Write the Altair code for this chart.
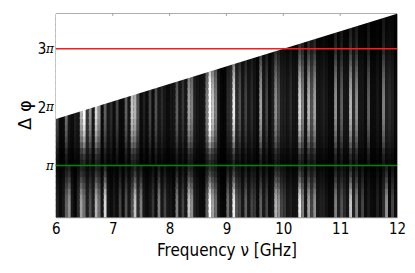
import altair as alt
import pandas as pd

FONT = "DejaVu Sans Condensed, Roboto, sans-serif"

# brightness of the vertical streaks, read column by column (3 px wide each)
lower_a = [.15,.05,.1,.4,.55,.1,.03,.2,.6,.45,.15,.35,.15,.65,.45,.1,.75,.1,.05,.12,.05,.3,.05,.35,.1,.35,.7,.2,.5,.1,.05,.1,.25,.05,.5,.1,.3,.1]
lower_b = [.1,.05,.5,.1,.3,.1,.7,.55,.15,.1,.05,.05,.4,.85,.6,.45,.1,.03,.03,.45,.2,.8,.35,.3,.1,.4,.1,.3,.25,.05,.4,.1,.3,.05,.1,.65,.55,.3]
lower_c = [.25,.1,.15,.08,.1,.8,.5,.1,.6,.3,.55,.1,.15,.15,.08,.04,.05,.5,.15,.35,.2,.1,.7,.15,.5,.1,.3,.05,.12,.05,.04,.15,.05,.2,.55,.05,.3,.05]
upper_a = [.3,.05,.05,.45,.1,.05,.15,.1,.65,.85,.25,.55,.1,.75,.55,.05,.4,.1,.2,.05,.3,.05,.05,.4,.1,.7,.65,.35,.05,.15,.05,.3,.05,.35,.1,.2,.1,.05]
upper_b = [.1,.1,.4,.1,.25,.1,.6,.5,.15,.1,.08,.1,.5,.95,.7,.5,.1,.03,.03,.2,.25,.8,.2,.35,.1,.3,.1,.2,.1,.05,.6,.1,.3,.05,.15,.55,.35,.15]
upper_c = [.15,.1,.2,.1,.1,.75,.5,.1,.65,.35,.6,.1,.1,.15,.1,.05,.05,.55,.1,.4,.1,.1,.65,.2,.55,.1,.1,.05,.4,.05,.05,.1,.05,.5,.15,.2,.15,.05]

# row edges in units of pi and the relative strength of the streaks in each row
row_edges = [.115,.2,.3,.4,.5,.6,.7,.8,.9,1.0,1.1,1.2,1.3,1.4,1.5,1.6,1.7,1.8,1.9,2.0,2.1,2.2,2.3,2.4,2.5,2.6,2.7,2.8,2.9,3.0,3.1,3.2,3.3,3.4,3.5,3.6]
row_gain = [1.0,1.0,1.0,.95,.85,.7,.55,.4,.28,.22,.3,.42,.6,.72,.82,.9,.95,1.0,1.0,1.0,.98,.95,.9,.85,.78,.7,.6,.5,.4,.32,.28,.25,.22,.2,.18]

freq_start, freq_stop = 6, 12
wedge_freq = [6, 12]
wedge_top = [1.8, 3.6]
x_ticks = [6, 7, 8, 9, 10, 11, 12]
top_ticks = [7, 8, 9, 10, 11]
y_ticks = [1, 2, 3]

lower = lower_a + lower_b + lower_c
upper = upper_a + upper_b + upper_c
n = len(lower)
step = (freq_stop - freq_start) / n
rows = []
for i in range(n):
    for j, g in enumerate(row_gain):
        src = lower if row_edges[j] < 1.0 else upper
        rows.append({"f0": freq_start + i * step, "f1": freq_start + (i + 1) * step,
                     "p0": row_edges[j], "p1": row_edges[j + 1] + 0.03, "v": min(1, src[i] * g)})
cells = pd.DataFrame(rows)

xs = alt.Scale(domain=[6, 12], nice=False, zero=False)
ys = alt.Scale(domain=[0.115, 3.6], nice=False, zero=False, clamp=True)
gray = alt.Scale(type="pow", exponent=1.2, domain=[0, 0.85], clamp=True, range=["#000000", "#ffffff"])

base = alt.Chart(pd.DataFrame({"a": [6], "b": [12], "c": [0.115], "d": [3.6]})).mark_rect(
    color="#000000").encode(
    x=alt.X("a:Q", scale=xs, axis=alt.Axis(
        values=x_ticks, grid=False, ticks=False, domain=False, format="d", labelFlush=False,
        labelOverlap=False,
        labelFont=FONT, labelFontSize=15, labelColor="#000", labelPadding=4, labelAngle=0,
        title="Frequency ν [GHz]", titleFont=FONT, titleFontSize=17, titleFontWeight="normal",
        titleColor="#000", titlePadding=6)),
    x2="b:Q",
    y=alt.Y("c:Q", scale=ys, axis=alt.Axis(
        values=y_ticks, grid=False, ticks=False, domain=False,
        labelExpr="datum.value == 1 ? '' : format(datum.value, 'd')",
        labelFont=FONT, labelFontSize=15, labelColor="#000", labelPadding=10,
        title="Δ φ", titleFont="DejaVu Sans", titleFontSize=18, titleFontWeight="normal",
        titleColor="#000", titleX=-21, titleY=101)),
    y2="d:Q",
)

heat = alt.Chart(cells).mark_rect(strokeWidth=0).encode(
    x=alt.X("f0:Q", scale=xs),
    x2="f1:Q",
    y=alt.Y("p0:Q", scale=ys),
    y2="p1:Q",
    color=alt.Color("v:Q", scale=gray, legend=None),
)

wedge = alt.Chart(pd.DataFrame({"f": wedge_freq, "t": wedge_top, "c": [3.6, 3.6]})).mark_area(
    color="#ffffff", opacity=1).encode(
    x=alt.X("f:Q", scale=xs), y=alt.Y("t:Q", scale=ys), y2="c:Q")

red = alt.Chart(pd.DataFrame({"p": [3]})).mark_rule(color="#ff1a1a", strokeWidth=1.5).encode(
    y=alt.Y("p:Q", scale=ys))
green = alt.Chart(pd.DataFrame({"p": [1]})).mark_rule(color="#0b800b", strokeWidth=1.5).encode(
    y=alt.Y("p:Q", scale=ys))

ticks = alt.Chart(pd.DataFrame({"f": top_ticks})).mark_rule(color="#999999", strokeWidth=1).encode(
    x=alt.X("f:Q", scale=xs), y=alt.value(0), y2=alt.value(2))

pis = alt.Chart(pd.DataFrame({"p": y_ticks, "s": ["π"] * len(y_ticks)})).mark_text(
    font="DejaVu Serif", fontStyle="italic", fontSize=12, align="right", baseline="middle", color="#000").encode(
    x=alt.value(-2), y=alt.Y("p:Q", scale=ys), text="s:N")

chart = alt.layer(base, heat, wedge, red, green, ticks, pis).properties(
    width=342, height=204,
    autosize=alt.AutoSizeParams(type="none"),
    padding={"left": 48, "top": 5.5, "right": 10, "bottom": 48},
).configure_view(stroke="#aaaaaa", strokeWidth=1)

chart.save("out.html", embed_options={"renderer": "svg", "actions": False})
